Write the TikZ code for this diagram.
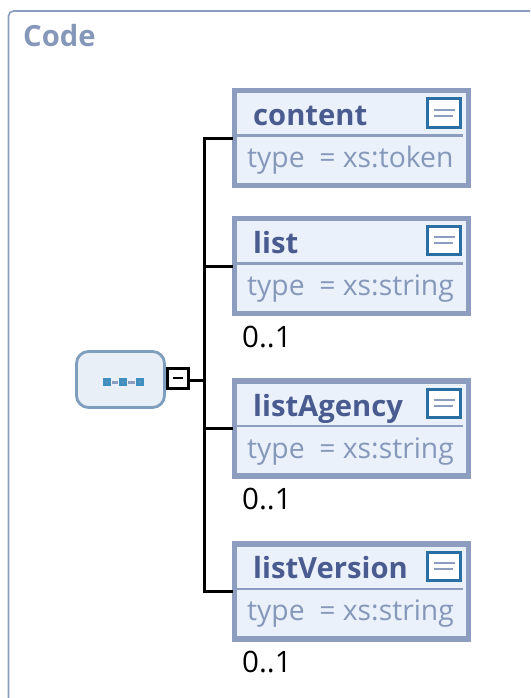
\documentclass[tikz,border=0pt]{standalone}
\usepackage{fontspec}
\setmainfont{Open Sans}
\usetikzlibrary{positioning}
\definecolor{frameblue}{HTML}{8C9DBF}
\definecolor{titleblue}{HTML}{4A5B90}
\definecolor{typeblue}{HTML}{8698BA}
\definecolor{paleblue}{HTML}{EAF1FB}
\definecolor{seqfill}{HTML}{E8EFF7}
\definecolor{seqedge}{HTML}{7F9DBD}
\definecolor{iconblue}{HTML}{2A6FA3}
\definecolor{seqicon}{HTML}{3F8FBF}
\begin{document}
\begin{tikzpicture}[x=1pt, y=-1pt,
                    elem/.style={draw=frameblue, fill=paleblue, line width=5.5pt, minimum width=234pt, minimum height=95pt, inner sep=0pt},
                    elemname/.style={font=\fontsize{29.2}{29}\selectfont\bfseries, text=titleblue, anchor=base west, inner sep=0pt},
                    elemtype/.style={font=\fontsize{28.3}{28}\selectfont, text=typeblue, anchor=base west, inner sep=0pt},
                    occurs/.style={font=\fontsize{29.5}{29}\selectfont, anchor=base west, inner sep=0pt},
                    docicon/.style={draw=iconblue, fill=white, line width=3pt, minimum width=33pt, minimum height=28pt, inner sep=0pt},
                    link/.style={line width=3pt, line cap=rect},
                    seqdot/.style={draw=seqicon, fill=seqicon!60!frameblue, line width=2.8pt, minimum size=5.5pt, inner sep=0pt}]
\useasboundingbox (0,0) rectangle (530,698);
\fill[white] (0,0) rectangle (530,698);

% outer frame
\draw[frameblue, line width=1.6pt, rounded corners=5pt] (8.5,698) -- (8.5,11) -- (530,11);
\node[font=\fontsize{29.2}{29}\selectfont\bfseries, text=typeblue, anchor=base west, inner sep=0pt] (codetitle) at (23,47) {Code};

% sequence compositor
\node[draw=seqedge, fill=seqfill, line width=2.8pt, rounded corners=12pt, minimum width=88pt, minimum height=56pt, inner sep=0pt] (seq) at (120.5,379.5) {};
\node[seqdot] (seqa) at (107,382) {};
\node[seqdot] (seqb) at (123,382) {};
\node[seqdot] (seqc) at (140,382) {};
\draw[frameblue, line width=3pt, shorten >=1pt, shorten <=1pt] (seqa) -- (seqb);
\draw[frameblue, line width=3pt, shorten >=1pt, shorten <=1pt] (seqb) -- (seqc);
\node[draw=black, fill=white, line width=3pt, minimum width=21pt, minimum height=20pt, inner sep=0pt] (minus) at (177.5,378) {};
\draw[line width=2.5pt] (172.5,378) -- (183,378);

% elements
\node[elem] (content) at (351.5,138) {};
\node[elem] (list) at (351.5,266) {};
\node[elem] (listAgency) at (351.5,428.5) {};
\node[elem] (listVersion) at (351.5,591.5) {};

\draw[frameblue, line width=2.4pt] (content.west |- 0,135.5) -- (463,135.5);
\draw[frameblue, line width=2.4pt] (list.west |- 0,263.5) -- (463,263.5);
\draw[frameblue, line width=2.4pt] (listAgency.west |- 0,426) -- (463,426);
\draw[frameblue, line width=2.4pt] (listVersion.west |- 0,589) -- (463,589);

\node[elemname] (contentname) at (253,125) {content};
\node[elemname] (listname) at (253,253) {list};
\node[elemname] (agencyname) at (253,416) {listAgency};
\node[elemname] (versionname) at (253,578) {listVersion};

\node[elemtype] (contenttype) at (247,167) {type\ \ = xs:token};
\node[elemtype] (listtype) at (247,295) {type\ \ = xs:string};
\node[elemtype] (agencytype) at (247,458) {type\ \ = xs:string};
\node[elemtype] (versiontype) at (247,620) {type\ \ = xs:string};

\node[docicon] (contentdoc) at (444,113) {};
\node[docicon] (listdoc) at (444,240) {};
\node[docicon] (agencydoc) at (444,403) {};
\node[docicon] (versiondoc) at (444,566) {};
\draw[frameblue, line width=2.6pt] (434,110) -- (455,110) (434,116) -- (453,116);
\draw[frameblue, line width=2.6pt] (434,237) -- (455,237) (434,243) -- (453,243);
\draw[frameblue, line width=2.6pt] (434,400) -- (455,400) (434,406) -- (453,406);
\draw[frameblue, line width=2.6pt] (434,563) -- (455,563) (434,569) -- (453,569);

\node[occurs] (listocc) at (242,347) {0..1};
\node[occurs] (agencyocc) at (242,509) {0..1};
\node[occurs] (versionocc) at (242,672) {0..1};

% connectors
\coordinate (trunk) at (204,380);
\draw[link] (minus.east |- trunk) -- (trunk);
\draw[link] (content.west) -| (trunk);
\draw[link] (list.west) -| (trunk);
\draw[link] (listAgency.west) -| (trunk);
\draw[link] (listVersion.west) -| (trunk);
\end{tikzpicture}
\end{document}
